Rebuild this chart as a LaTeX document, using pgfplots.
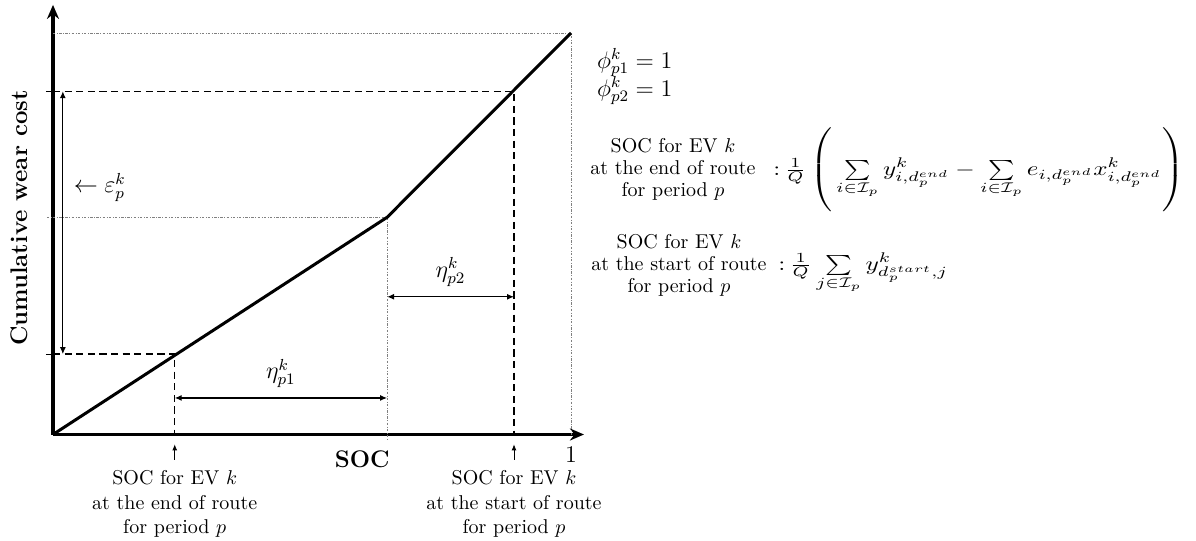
\documentclass[border=0pt]{standalone}
\usepackage{pgfplots}
\pgfplotsset{compat=1.18}
\usepackage{amsmath}
\usepackage{graphicx}
\usetikzlibrary{arrows.meta}

\begin{document}
\begin{tikzpicture}
\begin{axis}[
  x=259pt, y=200.75pt,
  xmin=0, xmax=1.025, ymin=0, ymax=1.07,
  axis lines=left,
  x axis line style={line width=1.6pt, -{Stealth[length=7pt,width=6pt]}},
  y axis line style={line width=1.6pt, -{Stealth[length=7pt,width=6pt]}},
  xtick=\empty,
  ytick={0.2,0.855}, yticklabels={},
  tick align=outside, major tick length=3.5pt,
  ytick style={line width=0.6pt, black},
  clip=false,
]
\coordinate (O) at (axis cs:0,0);

% guide lines
\addplot[gray, line width=0.4pt, dash pattern=on 1.2pt off 0.8pt on 0.3pt off 0.8pt]
  coordinates {(0,1) (1,1) (1,0)};
\addplot[gray, line width=0.4pt, dash pattern=on 1.2pt off 0.8pt on 0.3pt off 0.8pt]
  coordinates {(-0.012,0.541) (0.645,0.541) (0.645,-0.016)};
\addplot[black, line width=0.7pt, dash pattern=on 3.6pt off 2.2pt] coordinates {(0,0.2) (0.235,0.2) (0.235,0)};
\addplot[black, line width=0.7pt, dash pattern=on 3.6pt off 2.2pt] coordinates {(0,0.855) (0.89,0.855) (0.89,0)};

% wear cost curve
\addplot[black, line width=1.5pt] coordinates {(0,0) (0.645,0.541) (1,1)};

% measure arrows
\addplot[black, line width=0.6pt, {Latex[length=3.5pt,width=3pt]}-{Latex[length=3.5pt,width=3pt]}]
  coordinates {(0.235,0.091) (0.645,0.091)};
\addplot[black, line width=0.6pt, {Latex[length=3.5pt,width=3pt]}-{Latex[length=3.5pt,width=3pt]}]
  coordinates {(0.645,0.343) (0.89,0.343)};
\addplot[black, line width=0.6pt, {Latex[length=3.5pt,width=3pt]}-{Latex[length=3.5pt,width=3pt]}]
  coordinates {(0.019,0.2) (0.019,0.855)};

\draw[line width=0.4pt, -{Latex[length=3pt,width=2.4pt]}] ([yshift=-12.6pt]axis cs:0.235,0) -- ([yshift=-4.9pt]axis cs:0.235,0);
\draw[line width=0.4pt, -{Latex[length=3pt,width=2.4pt]}] ([yshift=-12.6pt]axis cs:0.89,0) -- ([yshift=-4.9pt]axis cs:0.89,0);

\node[font=\large, anchor=base west, inner sep=0pt] at (axis cs:0.0394,0.6015) {$\leftarrow \varepsilon^k_p$};
\node[font=\large, anchor=south, yshift=1.5pt] at (axis cs:0.44,0.091) {$\eta^k_{p1}$};
\node[font=\large, anchor=south, yshift=1.5pt] at (axis cs:0.7675,0.343) {$\eta^k_{p2}$};

% axis labels
\node[font=\large\bfseries] at ([yshift=-12.5pt]axis cs:0.597,0) {SOC};
\node[font=\large] at ([yshift=-10pt]axis cs:1,0) {1};
\node[font=\large\bfseries, rotate=90] at ([xshift=-17pt]axis cs:0,0.539) {Cumulative wear cost};

\node[align=center, font=\fontsize{10}{12.25}\selectfont, anchor=north, inner sep=0pt]
  at ([yshift=-17.8pt]axis cs:0.235,0) {SOC for EV $k$\\at the end of route\\for period $p$};
\node[align=center, font=\fontsize{10}{12.25}\selectfont, anchor=north, inner sep=0pt]
  at ([yshift=-17.8pt]axis cs:0.89,0) {SOC for EV $k$\\at the start of route\\for period $p$};

% right-hand notes
\node[font=\large, anchor=base west, inner sep=0pt] at (axis cs:1.0496,0.9128) {$\phi^k_{p1}=1$};
\node[font=\large, anchor=base west, inner sep=0pt] at (axis cs:1.0496,0.843) {$\phi^k_{p2}=1$};

\node[inner sep=0pt] at (axis cs:1.1969,0.6587)
  {\fontsize{10}{11}\selectfont
   \begin{tabular}{@{}c@{}}SOC for EV $k$\\at the end of route\\for period $p$\end{tabular}};
\node[anchor=base west, inner sep=0pt] at (axis cs:1.390,0.6463)
  {\scalebox{1.25}[1]{${:}\,\tfrac{1}{Q}\left(\vphantom{\rule[-19pt]{0pt}{24pt}}\sum\limits_{i\in\mathcal{I}_p} y^k_{i,d_p^{end}} - \sum\limits_{i\in\mathcal{I}_p} e_{i,d_p^{end}}x^k_{i,d_p^{end}}\right)$}};

\node[inner sep=0pt] at (axis cs:1.2085,0.4197)
  {\fontsize{10}{11}\selectfont
   \begin{tabular}{@{}c@{}}SOC for EV $k$\\at the start of route\\for period $p$\end{tabular}};
\node[anchor=base west, inner sep=0pt] at (axis cs:1.3996,0.4097)
  {\scalebox{1.27}[1]{${:}\,\tfrac{1}{Q}\sum\limits_{j\in\mathcal{I}_p} y^k_{d_p^{start},j}$}};
\end{axis}
\pgfresetboundingbox
\path ([shift={(-26.5pt,-53.25pt)}]O) rectangle ++(598pt,270.5pt);
\end{tikzpicture}
\end{document}
